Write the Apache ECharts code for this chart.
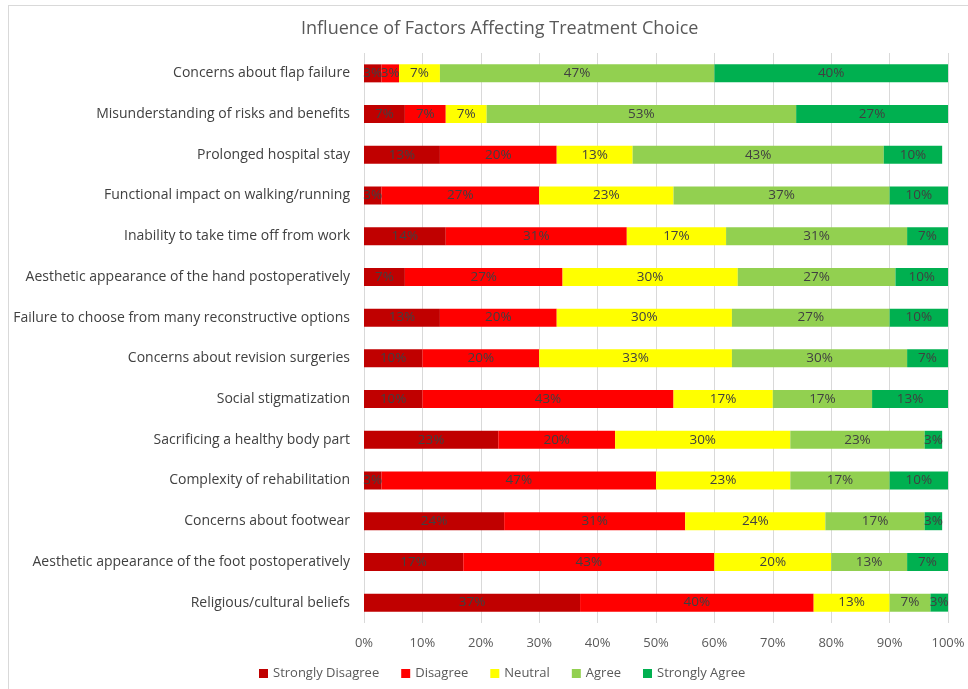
<!DOCTYPE html>
<html>
<head>
<meta charset="utf-8">
<script src="https://cdn.jsdelivr.net/npm/echarts@6/dist/echarts.min.js"></script>
<style>
  html, body { margin: 0; padding: 0; background: #fff; }
  #chart { width: 968px; height: 689px; }
</style>
</head>
<body>
<div id="chart"></div>
<script>
// Factors, listed top to bottom
const categories = [
  'Concerns about flap failure',
  'Misunderstanding of risks and benefits',
  'Prolonged hospital stay',
  'Functional impact on walking/running',
  'Inability to take time off from work',
  'Aesthetic appearance of the hand postoperatively',
  'Failure to choose from many reconstructive options',
  'Concerns about revision surgeries',
  'Social stigmatization',
  'Sacrificing a healthy body part',
  'Complexity of rehabilitation',
  'Concerns about footwear',
  'Aesthetic appearance of the foot postoperatively',
  'Religious/cultural beliefs'
];

// Percentages of respondents per answer, same order as categories
const stronglyDisagree = [3, 7, 13, 3, 14, 7, 13, 10, 10, 23, 3, 24, 17, 37];
const disagree         = [3, 7, 20, 27, 31, 27, 20, 20, 43, 20, 47, 31, 43, 40];
const neutral          = [7, 7, 13, 23, 17, 30, 30, 33, 17, 30, 23, 24, 20, 13];
const agree            = [47, 53, 43, 37, 31, 27, 27, 30, 17, 23, 17, 17, 13, 7];
const stronglyAgree    = [40, 27, 10, 10, 7, 10, 10, 7, 13, 3, 10, 3, 7, 3];

const xTicks = [0, 10, 20, 30, 40, 50, 60, 70, 80, 90, 100];

const seriesDefs = [
  { name: 'Strongly Disagree', data: stronglyDisagree, color: '#C00000' },
  { name: 'Disagree',          data: disagree,         color: '#FF0000' },
  { name: 'Neutral',           data: neutral,          color: '#FFFF00' },
  { name: 'Agree',             data: agree,            color: '#92D050' },
  { name: 'Strongly Agree',    data: stronglyAgree,    color: '#00B050' }
];

const font = "'Open Sans', 'Liberation Sans', sans-serif";

const chart = echarts.init(document.getElementById('chart'), null, { renderer: 'canvas' });

chart.setOption({
  backgroundColor: '#fff',
  animation: false,
  textStyle: { fontFamily: font },
  // thin frame around the chart area (top and left edges)
  graphic: [
    { type: 'line', shape: { x1: 8, y1: 5.5, x2: 968, y2: 5.5 }, style: { stroke: '#D9D9D9', lineWidth: 1 }, silent: true },
    { type: 'line', shape: { x1: 8.5, y1: 5, x2: 8.5, y2: 689 }, style: { stroke: '#D9D9D9', lineWidth: 1 }, silent: true }
  ],
  title: {
    text: 'Influence of Factors Affecting Treatment Choice',
    left: 296,
    top: 15,
    textStyle: { fontFamily: font, fontSize: 18, fontWeight: 'normal', color: '#595959' }
  },
  legend: {
    bottom: 4,
    left: 254,
    itemWidth: 9,
    itemHeight: 9,
    itemGap: 22,
    icon: 'rect',
    textStyle: { fontFamily: font, fontSize: 13, color: '#595959' },
    data: seriesDefs.map(s => s.name)
  },
  grid: { left: 364, right: 20, top: 53, bottom: 66, containLabel: false },
  xAxis: {
    type: 'value',
    min: 0,
    max: 100,
    interval: 10,
    axisLine: { show: false },
    axisTick: { show: false },
    splitLine: { lineStyle: { color: '#D9D9D9', width: 1 } },
    axisLabel: {
      color: '#595959',
      fontSize: 13,
      margin: 14,
      formatter: v => (xTicks.includes(v) ? v + '%' : '')
    }
  },
  yAxis: {
    type: 'category',
    inverse: true,
    data: categories,
    axisLine: { show: false },
    axisTick: { show: false },
    axisLabel: { color: '#404040', fontSize: 14, margin: 14 }
  },
  series: seriesDefs.map(s => ({
    name: s.name,
    type: 'bar',
    stack: 'total',
    barWidth: 18,
    data: s.data,
    itemStyle: { color: s.color },
    label: {
      show: true,
      position: 'inside',
      formatter: p => p.value + '%',
      color: '#404040',
      fontSize: 13.5,
      fontFamily: font
    }
  }))
});
</script>
</body>
</html>
